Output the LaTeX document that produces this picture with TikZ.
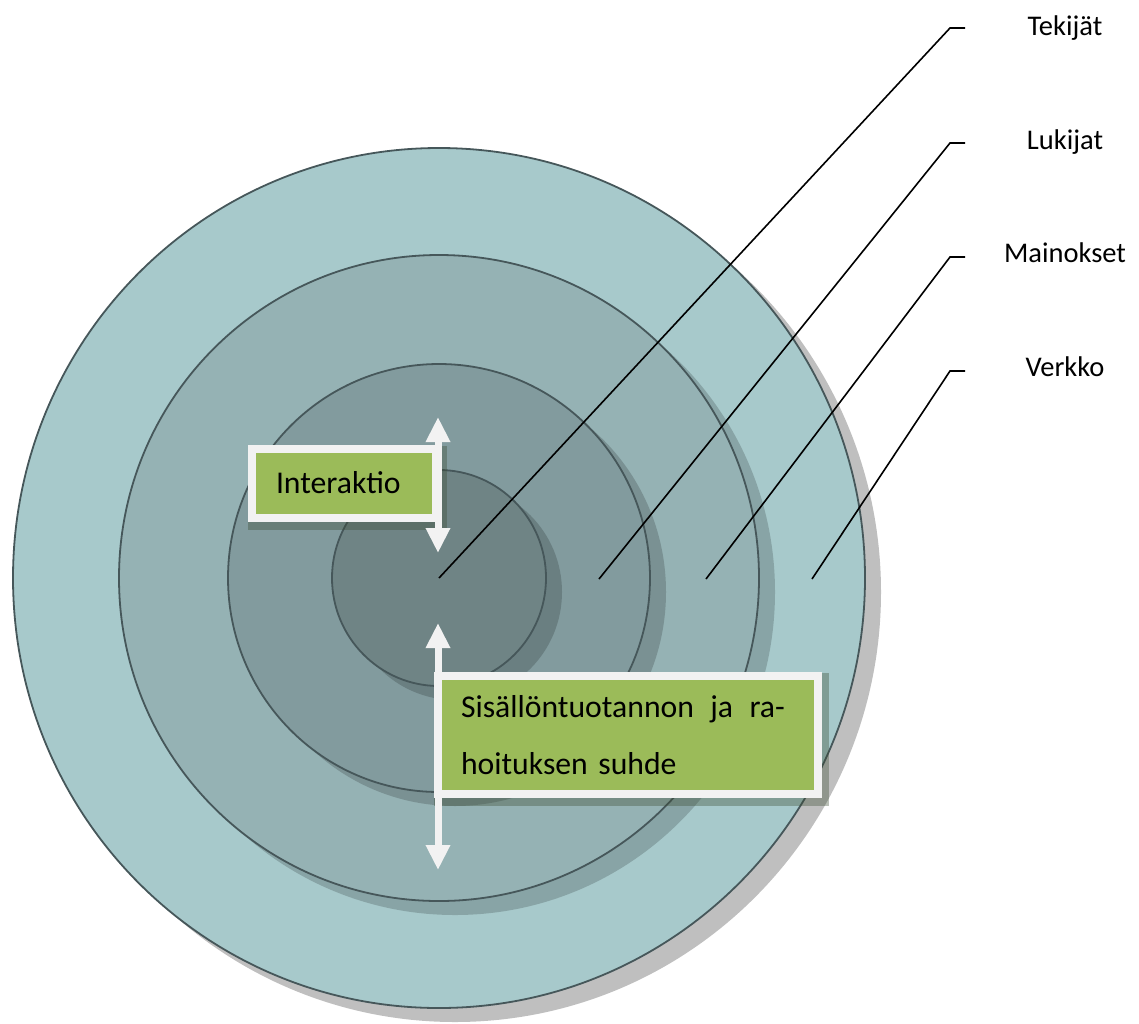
\documentclass[tikz,border=0pt]{standalone}
\usepackage{fontspec}
\setmainfont{Carlito}
\usetikzlibrary{arrows.meta,calc}
\definecolor{ringA}{HTML}{A7C9CB}
\definecolor{ringB}{HTML}{95B2B4}
\definecolor{ringC}{HTML}{829B9E}
\definecolor{ringD}{HTML}{6F8485}
\definecolor{ringline}{HTML}{46575A}
\definecolor{boxgreen}{HTML}{9BBB59}
\definecolor{boxwhite}{HTML}{F2F2F2}
\definecolor{outshadow}{HTML}{BFBFBF}
\definecolor{bshade}{HTML}{3A4A30}
\pgfdeclarelayer{circ}
\pgfdeclarelayer{shade}
\pgfsetlayers{circ,shade,main}
\begin{document}
\begin{tikzpicture}[x=1pt,y=-1pt,
  ring/.style={draw=ringline, line width=1.8pt},
  ringshadow/.style={fill=black, fill opacity=0.18},
  leader/.style={draw=black, line width=1.6pt},
  lbl/.style={font=\fontsize{28.5}{34}\selectfont, anchor=base, inner sep=0pt},
  gbox/.style={fill=boxgreen, draw=boxwhite, line width=8pt, font=\fontsize{31.7}{57}\selectfont, inner ysep=0pt, align=left},
  bshadow/.style={fill=bshade, fill opacity=0.35},
  dblarrow/.style={draw=boxwhite, line width=7pt, arrows={Triangle[width=23pt,length=25pt]-Triangle[width=23pt,length=25pt]}}
]
\useasboundingbox (0,0) rectangle (1139,1023);

\coordinate (c) at (439,578);
\begin{pgfonlayer}{circ}
  \fill[outshadow] ($(c)+(16,14)$) ellipse [x radius=426pt, y radius=430pt];
  \filldraw[ring, fill=ringA] (c) ellipse [x radius=426pt, y radius=430pt];
  \fill[ringshadow] ($(c)+(16,14)$) ellipse [x radius=320pt, y radius=323pt];
  \filldraw[ring, fill=ringB] (c) ellipse [x radius=320pt, y radius=323pt];
  \fill[ringshadow] ($(c)+(16,14)$) ellipse [x radius=211pt, y radius=214pt];
  \filldraw[ring, fill=ringC] (c) ellipse [x radius=211pt, y radius=214pt];
  \fill[ringshadow] ($(c)+(16,14)$) ellipse [x radius=107pt, y radius=108pt];
  \filldraw[ring, fill=ringD] (c) ellipse [x radius=107pt, y radius=108pt];
\end{pgfonlayer}

% labels
\node[lbl] (tek) at (1065,35) {Tekijät};
\node[lbl] (luk) at (1065,149) {Lukijat};
\node[lbl] (mai) at (1065,262) {Mainokset};
\node[lbl] (ver) at (1065,376) {Verkko};

% leader lines
\coordinate (a0) at (439,578);
\coordinate (a1) at (950,28);
\coordinate (a2) at (965,28);
\coordinate (b0) at (599,579);
\coordinate (b1) at (950,143);
\coordinate (b2) at (965,143);
\coordinate (m0) at (706,579);
\coordinate (m1) at (950,257);
\coordinate (m2) at (965,257);
\coordinate (v0) at (812,579);
\coordinate (v1) at (950,371);
\coordinate (v2) at (965,371);
\draw[leader] (a0) -- (a1) -- (a2);
\draw[leader] (b0) -- (b1) -- (b2);
\draw[leader] (m0) -- (m1) -- (m2);
\draw[leader] (v0) -- (v1) -- (v2);

% boxes
\node[gbox, minimum width=184pt, minimum height=69pt, text width=136pt, inner xsep=24pt,
      text height=19pt, text depth=0pt] (ibox) at (344,483.5) {Interaktio};
\node[gbox, minimum width=380pt, minimum height=118pt, text width=334pt, inner xsep=23pt]
      (sbox) at (628,735) {\leavevmode\hbox to 324pt{Sisällöntuotannon\hfil ja\hfil ra-}\\ hoituksen suhde};

\begin{pgfonlayer}{shade}
  \fill[bshadow] ([yshift=-1pt]ibox.north west) rectangle ([xshift=7pt,yshift=-8pt]ibox.south east);
  \fill[bshadow] ([yshift=-1pt]sbox.north west) rectangle ([xshift=7pt,yshift=-8pt]sbox.south east);
\end{pgfonlayer}

% arrows
\coordinate (ia) at (438,417);
\coordinate (ib) at (438,553);
\coordinate (sa) at (438,623);
\coordinate (sb) at (438,870);
\draw[dblarrow] (ia) -- (ib);
\draw[dblarrow] (sa) -- (sb);
\end{tikzpicture}
\end{document}
